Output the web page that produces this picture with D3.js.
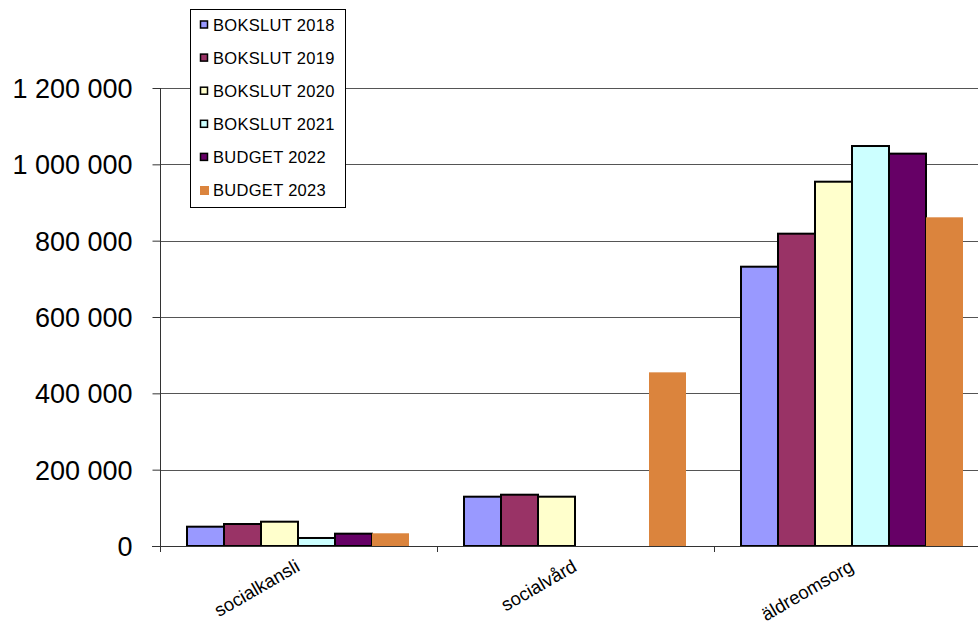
<!DOCTYPE html>
<html>
  <head>
    <meta charset="utf-8" />
    <script src="https://d3js.org/d3.v7.min.js"></script>
    <style>
      body { margin: 0; background: #ffffff; }
      text { font-family: "Liberation Sans", Arial, sans-serif; fill: #000000; }
      .grid line { stroke: #555555; stroke-width: 1; }
      .bar { stroke: #000000; stroke-width: 2; }
    </style>
  </head>
  <body>
    <div id="chart"></div>
    <script type="text/javascript">

      var w = 978, h = 626;

      // data
      var categories = ["socialkansli", "socialvård", "äldreomsorg"];
      var series = ["BOKSLUT 2018", "BOKSLUT 2019", "BOKSLUT 2020", "BOKSLUT 2021", "BUDGET 2022", "BUDGET 2023"];
      var colors = ["#9999ff", "#993366", "#ffffcc", "#ccffff", "#660066", "#db843d"];
      var outlined = [true, true, true, true, true, false];
      var values = [
        [50600, 129200, 731800],   // BOKSLUT 2018
        [57600, 134400, 818300],   // BOKSLUT 2019
        [63700, 129200, 954500],   // BOKSLUT 2020
        [21000, 0, 1048000],       // BOKSLUT 2021
        [32300, 0, 1028000],       // BUDGET 2022
        [33300, 455000, 861200]    // BUDGET 2023
      ];
      var yTicks = [0, 200000, 400000, 600000, 800000, 1000000, 1200000];

      var svg = d3.select("#chart").append("svg")
        .attr("width", w).attr("height", h);

      var y = d3.scaleLinear().domain([0, 1200000]).range([546, 88]);

      var x0 = d3.scaleBand().domain(categories).range([159.5, 990.5])
        .paddingInner(0.1986).paddingOuter(0.0993);
      var x1 = d3.scaleBand().domain(series).range([0, x0.bandwidth()]);

      // gridlines
      svg.append("g").attr("class", "grid")
        .selectAll("line").data(yTicks.slice(1)).enter().append("line")
        .attr("x1", 160).attr("x2", w)
        .attr("y1", function(d) { return Math.round(y(d)) + 0.5; })
        .attr("y2", function(d) { return Math.round(y(d)) + 0.5; });

      // bars
      var groups = svg.selectAll("g.cat").data(categories).enter().append("g")
        .attr("class", "cat")
        .attr("transform", function(d) { return "translate(" + x0(d) + ",0)"; });

      groups.each(function(c, ci) {
        var g = d3.select(this);
        series.forEach(function(s, si) {
          var v = values[si][ci];
          if (!v) return;
          g.append("rect")
            .attr("class", outlined[si] ? "bar" : null)
            .attr("x", x1(s))
            .attr("y", y(v))
            .attr("width", x1.bandwidth())
            .attr("height", y(0) - y(v))
            .attr("fill", colors[si]);
        });
      });

      // y axis
      var fmt = d3.format(",");
      var yAxis = d3.axisLeft(y).tickValues(yTicks).tickSize(8).tickPadding(20)
        .tickFormat(function(d) { return fmt(d).replace(/,/g, " "); });
      var ya = svg.append("g").attr("transform", "translate(160.5,0)").call(yAxis);
      ya.select(".domain").remove();
      ya.selectAll("line").attr("stroke", "#333");
      ya.selectAll("text").style("font-size", "27px").attr("dy", "0.35em");
      ya.append("line").attr("x1", 0).attr("x2", 0).attr("y1", 88).attr("y2", 552)
        .attr("stroke", "#333");

      // x axis
      svg.append("line").attr("x1", 152).attr("x2", w)
        .attr("y1", 546.5).attr("y2", 546.5).attr("stroke", "#333");
      svg.selectAll("line.ctick").data(categories.slice(1)).enter().append("line")
        .attr("class", "ctick")
        .attr("x1", function(d) { return Math.round(x0(d) - x0.step() * 0.0993) + 0.5; })
        .attr("x2", function(d) { return Math.round(x0(d) - x0.step() * 0.0993) + 0.5; })
        .attr("y1", 546).attr("y2", 552).attr("stroke", "#333");

      svg.selectAll("text.cat").data(categories).enter().append("text")
        .attr("class", "cat")
        .attr("text-anchor", "end")
        .style("font-size", "18.5px")
        .attr("transform", function(d) {
          return "translate(" + (x0(d) + x0.bandwidth() / 2 + 3) + ",570) rotate(-30)";
        })
        .text(function(d) { return d; });

      // legend
      var lg = svg.append("g").attr("transform", "translate(190.5,9.5)");
      lg.append("rect").attr("width", 155).attr("height", 198)
        .attr("fill", "#fff").attr("stroke", "#000");
      var items = lg.selectAll("g.item").data(series).enter().append("g")
        .attr("class", "item")
        .attr("transform", function(d, i) { return "translate(0," + (15.5 + i * 33.1) + ")"; });
      items.append("rect")
        .attr("x", function(d, i) { return outlined[i] ? 10 : 9.5; })
        .attr("y", function(d, i) { return outlined[i] ? -4 : -4.5; })
        .attr("width", function(d, i) { return outlined[i] ? 7 : 9; })
        .attr("height", function(d, i) { return outlined[i] ? 7 : 9; })
        .attr("fill", function(d, i) { return colors[i]; })
        .attr("stroke", function(d, i) { return outlined[i] ? "#000" : "none"; })
        .attr("stroke-width", 1.5);
      items.append("text").attr("x", 22.5).attr("dy", "0.36em")
        .style("font-size", "16.5px").style("letter-spacing", "0.3px")
        .text(function(d) { return d; });

    </script>
  </body>
</html>
